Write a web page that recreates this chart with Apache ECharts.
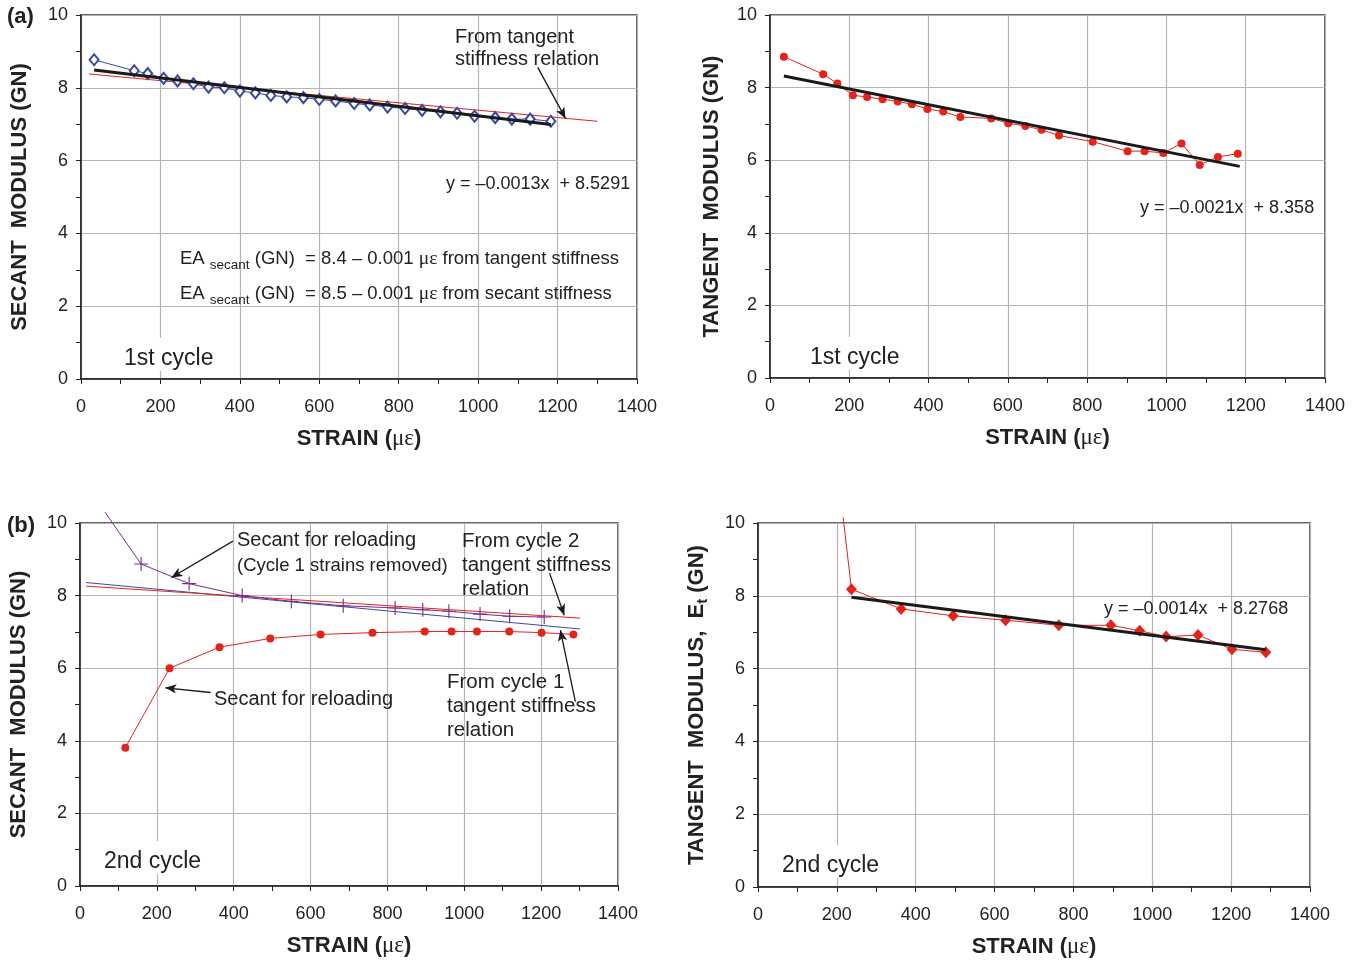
<!DOCTYPE html>
<html>
<head>
<meta charset="utf-8">
<title>Secant and tangent modulus vs strain</title>
<script src="https://cdn.jsdelivr.net/npm/echarts@6/dist/echarts.min.js"></script>
<style>
  html, body { margin: 0; padding: 0; background: #fff; }
  #chart { width: 1359px; height: 962px; }
</style>
</head>
<body>
<div id="chart"></div>
<script>
// (a) 1st cycle - secant modulus (GN) vs strain
var strainA = [33, 134, 168, 208, 243, 283, 321, 361, 400, 439, 478, 518, 560, 600, 641, 688, 727, 772, 816, 859, 905, 947, 991, 1043, 1085, 1131, 1183]
var secantA = [8.77, 8.47, 8.39, 8.26, 8.19, 8.11, 8.02, 8.0, 7.91, 7.86, 7.79, 7.75, 7.73, 7.68, 7.64, 7.57, 7.53, 7.47, 7.43, 7.38, 7.34, 7.30, 7.22, 7.18, 7.14, 7.14, 7.08]
var fitStrainA = [33, 1183]
var fitA = [8.49, 6.99]
var tanRelStrainA = [20, 1300]
var tanRelA = [8.38, 7.08]

// 1st cycle - tangent modulus
var strainB = [35, 134, 170, 209, 245, 284, 322, 358, 397, 437, 480, 558, 601, 644, 685, 729, 814, 902, 945, 992, 1038, 1084, 1130, 1180]
var tangentB = [8.85, 8.37, 8.11, 7.79, 7.74, 7.68, 7.62, 7.54, 7.41, 7.34, 7.19, 7.15, 7.02, 6.94, 6.84, 6.68, 6.51, 6.25, 6.25, 6.20, 6.46, 5.87, 6.09, 6.18]
var fitStrainB = [35, 1185]
var fitB = [8.32, 5.83]

// (b) 2nd cycle - secant modulus
var strainReloadC = [65, 159, 284, 422, 550, 685, 820, 892, 960, 1041, 1118, 1208]
var secantReloadC = [10.3, 8.87, 8.33, 8.0, 7.84, 7.72, 7.66, 7.61, 7.57, 7.49, 7.43, 7.41]
var strainSecC = [118, 233, 363, 495, 626, 761, 897, 967, 1033, 1117, 1201, 1284]
var secantC = [3.81, 6.0, 6.58, 6.82, 6.93, 6.98, 7.01, 7.01, 7.01, 7.01, 6.98, 6.93]
var relStrainC = [16, 1301]
var cycle1RelC = [8.36, 7.08]
var cycle2RelC = [8.26, 7.38]

// 2nd cycle - tangent modulus
var strainD = [216, 237, 363, 495, 628, 763, 895, 968, 1035, 1116, 1202, 1288]
var tangentD = [10.15, 8.18, 7.64, 7.45, 7.33, 7.19, 7.19, 7.04, 6.88, 6.92, 6.53, 6.45]
var fitStrainD = [237, 1288]
var fitD = [7.96, 6.52]

var xTicks = [0, 200, 400, 600, 800, 1000, 1200, 1400]
var yTicks = [0, 2, 4, 6, 8, 10]

var FONT = '"Liberation Sans", Arial, sans-serif'
var RED = '#e3231c'
var BLUE = '#3b48a3'
var PURPLE = '#7a2d8c'
var BLACK = '#1a1a1a'

function pairs(xs, ys) {
  return xs.map(function (x, i) { return [x, ys[i]] })
}

var chart = echarts.init(document.getElementById('chart'))

var grids = [
  { left: 81, top: 15, width: 556, height: 364 },
  { left: 770, top: 15, width: 555, height: 363 },
  { left: 80, top: 523, width: 538, height: 363 },
  { left: 758, top: 523, width: 552, height: 364 }
].map(function (g) {
  return Object.assign({ show: true, borderColor: '#333', borderWidth: 1.5, backgroundColor: 'transparent' }, g)
})

function xAxisFor(i) {
  return {
    type: 'value', gridIndex: i,
    min: xTicks[0], max: xTicks[xTicks.length - 1], interval: xTicks[1] - xTicks[0],
    name: '{b|STRAIN (}{g|με}{b|)}',
    nameLocation: 'middle', nameGap: 48,
    nameTextStyle: {
      rich: {
        b: { fontFamily: FONT, fontWeight: 'bold', fontSize: 22, color: '#222' },
        g: { fontFamily: '"Liberation Serif", serif', fontSize: 23, color: '#222' }
      }
    },
    axisLine: { show: true, onZero: false, lineStyle: { color: '#222', width: 1.5 } },
    axisTick: { show: true, length: 5, lineStyle: { color: '#222' } },
    minorTick: { show: true, splitNumber: 2, length: 5, lineStyle: { color: '#222' } },
    axisLabel: { fontFamily: FONT, fontSize: 18, color: '#222', margin: 19, formatter: function (v) { return String(v) } },
    splitLine: { show: true, lineStyle: { color: '#b5b5b5', width: 1.2 } }
  }
}

function yAxisFor(i, name, gap) {
  return {
    type: 'value', gridIndex: i,
    min: yTicks[0], max: yTicks[yTicks.length - 1], interval: yTicks[1] - yTicks[0],
    name: name, nameLocation: 'middle', nameGap: gap,
    nameTextStyle: {
      fontFamily: FONT, fontWeight: 'bold', fontSize: 22, color: '#222',
      rich: {
        b: { fontFamily: FONT, fontWeight: 'bold', fontSize: 22, color: '#222', lineHeight: 26 },
        t: { fontFamily: FONT, fontWeight: 'bold', fontSize: 15, color: '#222', lineHeight: 26, verticalAlign: 'bottom' }
      }
    },
    axisLine: { show: true, onZero: false, lineStyle: { color: '#222', width: 1.5 } },
    axisTick: { show: true, length: 5, lineStyle: { color: '#222' } },
    minorTick: { show: true, splitNumber: 2, length: 5, lineStyle: { color: '#222' } },
    axisLabel: { fontFamily: FONT, fontSize: 18, color: '#222', margin: 13 },
    splitLine: { show: true, lineStyle: { color: '#b5b5b5', width: 1.2 } }
  }
}

function arrows(list) {
  return {
    silent: true, animation: false,
    symbol: ['none', 'arrow'], symbolSize: [7, 11],
    lineStyle: { color: BLACK, width: 1.3, type: 'solid' },
    label: { show: false },
    emphasis: { disabled: true },
    data: list.map(function (a) { return [{ coord: a[0] }, { coord: a[1] }] })
  }
}

function plainLine(xi, xs, ys, color, width, z) {
  return {
    type: 'line', xAxisIndex: xi, yAxisIndex: xi, data: pairs(xs, ys),
    symbol: 'none', lineStyle: { color: color, width: width }, z: z, silent: true
  }
}

function label(text, left, top, font, extra) {
  return {
    type: 'text', left: left, top: top, z: 100,
    style: Object.assign({ text: text, font: font + ' ' + FONT, fill: '#222' }, extra || {})
  }
}

function eaLabel(val, from, left, top) {
  return {
    type: 'text', left: left, top: top, z: 100,
    style: {
      text: '{m|EA }{s|secant}{m| (GN)  = ' + val + ' – 0.001 }{g|με}{m| from ' + from + ' stiffness}',
      rich: {
        m: { font: '18.5px ' + FONT, fill: '#222', lineHeight: 26 },
        s: { font: '13.5px ' + FONT, fill: '#222', lineHeight: 26, verticalAlign: 'bottom' },
        g: { font: '19.5px "Liberation Serif", serif', fill: '#222', lineHeight: 26 }
      }
    }
  }
}

// white box behind the cycle labels, kept clear of the x axis line
var cycleBox = { backgroundColor: '#fff', padding: [9, 6, 1, 6] }

var option = {
  animation: false,
  backgroundColor: '#fff',
  grid: grids,
  xAxis: [xAxisFor(0), xAxisFor(1), xAxisFor(2), xAxisFor(3)],
  yAxis: [
    yAxisFor(0, '{b|SECANT  MODULUS (GN)}', 48),
    yAxisFor(1, '{b|TANGENT  MODULUS (GN)}', 45),
    yAxisFor(2, '{b|SECANT  MODULUS (GN)}', 48),
    yAxisFor(3, '{b|TANGENT  MODULUS,  E}{t|t}{b| (GN)}', 48)
  ],
  series: [
    // (a) left
    Object.assign(plainLine(0, tanRelStrainA, tanRelA, RED, 1, 2), {
      markLine: arrows([[[1150, 8.56], [1220, 7.16]]])
    }),
    {
      type: 'line', xAxisIndex: 0, yAxisIndex: 0, data: pairs(strainA, secantA),
      symbol: 'emptyDiamond', symbolSize: [9, 11], z: 3,
      itemStyle: { color: BLUE, borderWidth: 1 },
      lineStyle: { color: BLUE, width: 1 }
    },
    plainLine(0, fitStrainA, fitA, BLACK, 3, 4),
    // (a) right
    {
      type: 'line', xAxisIndex: 1, yAxisIndex: 1, data: pairs(strainB, tangentB),
      symbol: 'circle', symbolSize: 8, z: 3,
      itemStyle: { color: RED }, lineStyle: { color: RED, width: 1 }
    },
    plainLine(1, fitStrainB, fitB, BLACK, 3, 4),
    // (b) left
    plainLine(2, relStrainC, cycle1RelC, BLUE, 1, 2),
    Object.assign(plainLine(2, relStrainC, cycle2RelC, RED, 1, 2), {
      markLine: arrows([
        [[398, 9.5], [238, 8.5]],
        [[1222, 8.62], [1260, 7.46]],
        [[1289, 5.08], [1250, 7.05]],
        [[340, 5.33], [222, 5.46]]
      ])
    }),
    {
      type: 'line', xAxisIndex: 2, yAxisIndex: 2, clip: false, z: 3,
      data: pairs(strainReloadC, secantReloadC).map(function (p, i) {
        return i === 0 ? { value: p, symbol: 'none' } : p
      }),
      symbol: 'path://M4.6,0 L5.4,0 L5.4,10 L4.6,10 Z M0,4.6 L10,4.6 L10,5.4 L0,5.4 Z',
      symbolSize: 14,
      itemStyle: { color: PURPLE }, lineStyle: { color: PURPLE, width: 1 }
    },
    {
      type: 'line', xAxisIndex: 2, yAxisIndex: 2, data: pairs(strainSecC, secantC),
      symbol: 'circle', symbolSize: 8, z: 3,
      itemStyle: { color: RED }, lineStyle: { color: RED, width: 1 }
    },
    // (b) right
    {
      type: 'line', xAxisIndex: 3, yAxisIndex: 3, clip: false, z: 3,
      data: pairs(strainD, tangentD).map(function (p, i) {
        return i === 0 ? { value: p, symbol: 'none' } : p
      }),
      symbol: 'diamond', symbolSize: [11, 12],
      itemStyle: { color: RED }, lineStyle: { color: RED, width: 1 }
    },
    plainLine(3, fitStrainD, fitD, BLACK, 3, 4)
  ],
  graphic: [
    label('(a)', 7, 6, 'bold 22px'),
    label('(b)', 7, 515, 'bold 22px'),
    label('From tangent\nstiffness relation', 455, 26, '20px', { lineHeight: 22 }),
    label('y = –0.0013x  + 8.5291', 446, 175, '18px'),
    eaLabel('8.4', 'tangent', 180, 249),
    eaLabel('8.5', 'secant', 180, 284),
    label('1st cycle', 118, 338, '23px', cycleBox),
    label('y = –0.0021x  + 8.358', 1140, 199, '18px'),
    label('1st cycle', 804, 337, '23px', cycleBox),
    label('Secant for reloading', 237, 530, '20px'),
    label('(Cycle 1 strains removed)', 237, 556, '18.5px'),
    label('From cycle 2\ntangent stiffness\nrelation', 462, 529, '20.5px', { lineHeight: 24 }),
    label('From cycle 1\ntangent stiffness\nrelation', 447, 670, '20.5px', { lineHeight: 24 }),
    label('Secant for reloading', 214, 689, '20px'),
    label('2nd cycle', 98, 841, '23px', cycleBox),
    label('y = –0.0014x  + 8.2768', 1104, 600, '18px'),
    label('2nd cycle', 776, 845, '23px', cycleBox)
  ]
}

chart.setOption(option)
</script>
</body>
</html>
